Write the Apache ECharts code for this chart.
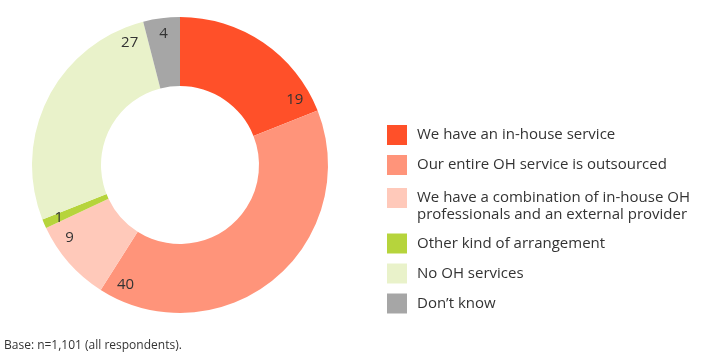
<!DOCTYPE html>
<html><head><meta charset="utf-8">
<script src="https://cdn.jsdelivr.net/npm/echarts@6/dist/echarts.min.js"></script>
<style>html,body{margin:0;padding:0;background:#fff}#c{width:703px;height:364px}</style>
</head><body><div id="c"></div>
<script>
const categories = ['We have an in-house service','Our entire OH service is outsourced','We have a combination of in-house OH\nprofessionals and an external provider','Other kind of arrangement','No OH services','Don\u2019t know'];
const values = [19, 40, 9, 1, 27, 4];
const colors = ['#FF5029','#FF947A','#FFC9BA','#B6D43C','#E9F2CA','#A6A6A6'];
const footnote = 'Base: n=1,101 (all respondents).';

const CX = 180, CY = 165, R_IN = 79, R_OUT = 148, LABEL_R = 132;
const total = values.reduce((a,b)=>a+b,0);
function labelAngle(i){
  let s = 0; for (let k=0;k<i;k++) s += values[k];
  const start = s/total*360, end = (s+values[i])/total*360;
  return Math.max((start+end)/2, end-8);
}
const font = 'Open Sans';
const chart = echarts.init(document.getElementById('c'), null, {renderer:'canvas'});
const legendText = {color:'#333', fontSize:15, fontFamily:font, lineHeight:17, padding:[0,0,0,5]};
chart.setOption({
  animation:false,
  title:{text:footnote, left:4, top:340, padding:0, textStyle:{fontSize:12, fontWeight:'normal', color:'#333', fontFamily:font}},
  legend:[
    {orient:'vertical', left:387, top:125, padding:0, itemWidth:20, itemHeight:20, itemGap:10, icon:'rect',
     data:categories.slice(0,2), textStyle:legendText, selectedMode:false},
    {orient:'vertical', left:387, top:172.5, padding:0, itemWidth:20, itemHeight:20, itemGap:10, icon:'rect',
     data:categories.slice(2), textStyle:legendText, selectedMode:false,
     formatter:function(n){ return n.indexOf('\n')>=0 ? '\n'+n : n; }}
  ],
  series:[{
    type:'pie', center:[CX,CY], radius:[R_IN,R_OUT], startAngle:90, clockwise:true,
    avoidLabelOverlap:false, emphasis:{disabled:true}, silent:true,
    itemStyle:{borderWidth:0},
    label:{show:true, position:'inside', formatter:'{c}', color:'#333', fontSize:15, fontFamily:font},
    labelLine:{show:false},
    labelLayout:function(p){
      const a = labelAngle(p.dataIndex)*Math.PI/180;
      return {x: CX + LABEL_R*Math.sin(a), y: CY - LABEL_R*Math.cos(a), align:'center', verticalAlign:'middle'};
    },
    data: categories.map((c,i)=>({name:c, value:values[i], itemStyle:{color:colors[i]}}))
  }]
});
</script></body></html>
